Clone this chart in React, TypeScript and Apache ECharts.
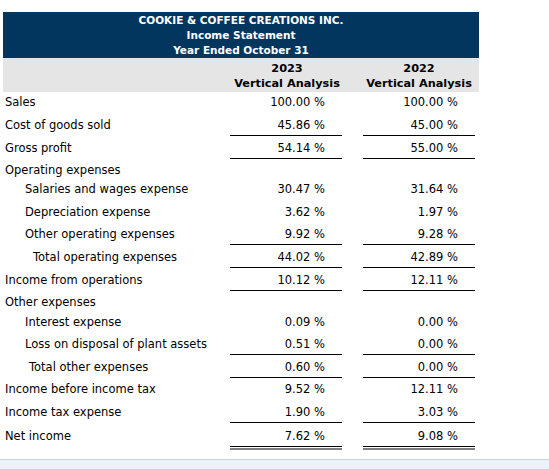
import React, { useEffect, useRef } from "react";
import * as echarts from "echarts";

const titleLines = ["COOKIE & COFFEE CREATIONS INC.", "Income Statement", "Year Ended October 31"];
const years = ["2023", "2022"];
const colSubtitle = "Vertical Analysis";

const rowLabels = [
  "Sales",
  "Cost of goods sold",
  "Gross profit",
  "Operating expenses",
  "Salaries and wages expense",
  "Depreciation expense",
  "Other operating expenses",
  "Total operating expenses",
  "Income from operations",
  "Other expenses",
  "Interest expense",
  "Loss on disposal of plant assets",
  "Total other expenses",
  "Income before income tax",
  "Income tax expense",
  "Net income",
];
// indentation level: 0 none, 1 item, 2/3 totals
const rowIndent = [0, 0, 0, 0, 1, 1, 1, 2, 0, 0, 1, 1, 3, 0, 0, 0];
const values2023: (number | null)[] = [100.0, 45.86, 54.14, null, 30.47, 3.62, 9.92, 44.02, 10.12, null, 0.09, 0.51, 0.6, 9.52, 1.9, 7.62];
const values2022: (number | null)[] = [100.0, 45.0, 55.0, null, 31.64, 1.97, 9.28, 42.89, 12.11, null, 0.0, 0.0, 0.0, 12.11, 3.03, 9.08];
// underline: 0 none, 1 single, 2 double
const rowUnderline = [0, 1, 1, 0, 0, 0, 1, 1, 1, 0, 0, 1, 1, 0, 1, 2];

// layout
const ROW_Y = [102, 125, 148, 170, 189, 212, 234, 257, 280, 302, 322, 344, 367, 389, 412, 436];
const INDENT_X = [5, 25, 33, 29];
const COL_RIGHT = [325, 458];
const COL_LINE = [
  [230, 342],
  [363, 475],
];
const COL_CENTER = [287, 419];
const FONT = "'DejaVu Sans', Verdana, sans-serif";
const TEXT_COLOR = "#000";

export default function App() {
  const ref = useRef<HTMLDivElement>(null);
  useEffect(() => {
    document.body.style.margin = "0";
    const chart = echarts.init(ref.current!, undefined, { renderer: "svg" });
    const g: any[] = [];
    g.push({ type: "rect", shape: { x: 3, y: 12, width: 476, height: 46 }, style: { fill: "#03365F" } });
    g.push({ type: "rect", shape: { x: 3, y: 58, width: 476, height: 34 }, style: { fill: "#E5E5E5" } });
    titleLines.forEach((t, i) => {
      g.push({
        type: "text",
        x: 241,
        y: 20 + i * 15,
        style: { text: t, fill: "#fff", font: `bold 10.5px ${FONT}`, align: "center", verticalAlign: "middle" },
      });
    });
    years.forEach((yr, c) => {
      g.push({
        type: "text",
        x: COL_CENTER[c],
        y: 68,
        style: { text: yr, fill: TEXT_COLOR, font: `bold 11.3px ${FONT}`, align: "center", verticalAlign: "middle" },
      });
      g.push({
        type: "text",
        x: COL_CENTER[c],
        y: 83,
        style: { text: colSubtitle, fill: TEXT_COLOR, font: `bold 11.3px ${FONT}`, align: "center", verticalAlign: "middle" },
      });
    });
    const fmt = (v: number) => `${v.toFixed(2)} %`;
    rowLabels.forEach((lab, i) => {
      const y = ROW_Y[i];
      g.push({
        type: "text",
        x: INDENT_X[rowIndent[i]],
        y,
        style: { text: lab, fill: TEXT_COLOR, font: `11.5px ${FONT}`, align: "left", verticalAlign: "middle" },
      });
      [values2023[i], values2022[i]].forEach((v, c) => {
        if (v !== null) {
          g.push({
            type: "text",
            x: COL_RIGHT[c],
            y,
            style: { text: fmt(v), fill: TEXT_COLOR, font: `11.5px ${FONT}`, align: "right", verticalAlign: "middle" },
          });
        }
        const u = rowUnderline[i];
        if (u > 0) {
          const ly = y + 10.5;
          g.push({
            type: "line",
            shape: { x1: COL_LINE[c][0], y1: ly, x2: COL_LINE[c][1], y2: ly },
            style: { stroke: "#000", lineWidth: 1 },
          });
          if (u === 2) {
            g.push({
              type: "line",
              shape: { x1: COL_LINE[c][0], y1: ly + 2.5, x2: COL_LINE[c][1], y2: ly + 2.5 },
              style: { stroke: "#000", lineWidth: 1 },
            });
          }
        }
      });
    });
    g.push({ type: "rect", shape: { x: 0, y: 459, width: 549, height: 11 }, style: { fill: "#EEF1F7" } });
    g.push({ type: "line", shape: { x1: 0, y1: 459.5, x2: 549, y2: 459.5 }, style: { stroke: "#C9D2E2", lineWidth: 1 } });
    g.push({ type: "line", shape: { x1: 0, y1: 469.5, x2: 549, y2: 469.5 }, style: { stroke: "#C9D2E2", lineWidth: 1 } });

    chart.setOption({ animation: false, graphic: { elements: g } });
    return () => chart.dispose();
  }, []);
  return <div ref={ref} style={{ width: 549, height: 470, background: "#fff" }} />;
}
